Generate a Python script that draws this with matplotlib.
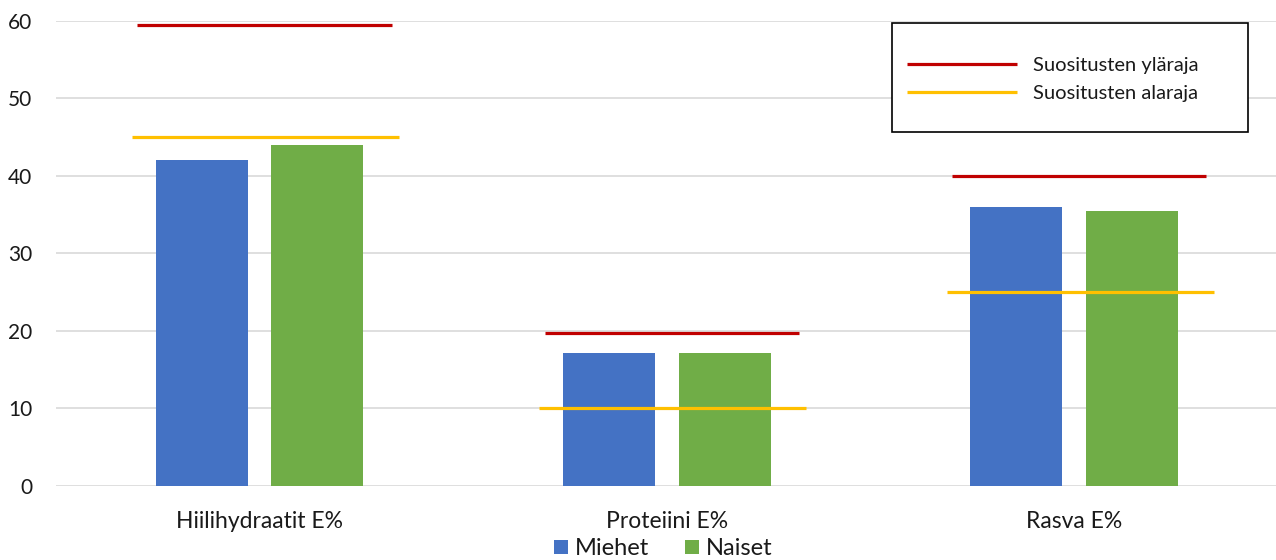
import matplotlib
matplotlib.use("Agg")
import matplotlib.pyplot as plt
from matplotlib.patches import Rectangle
import numpy as np

plt.rcParams['font.family'] = ['Lato', 'DejaVu Sans']

# Energy share of macronutrients (E%)
categories = ["Hiilihydraatit E%", "Proteiini E%", "Rasva E%"]
miehet = [42.0, 17.2, 36.0]
naiset = [44.0, 17.2, 35.5]
# Recommended range per nutrient
upper_limit = [59.5, 19.7, 40.0]
lower_limit = [45.0, 10.0, 25.0]
series_names = ["Miehet", "Naiset"]
limit_names = ["Suositusten yläraja", "Suositusten alaraja"]
y_ticks = [0, 10, 20, 30, 40, 50, 60]

BLUE = "#4472C4"
GREEN = "#70AD47"
RED = "#C00000"
ORANGE = "#FFC000"
GRID = "#D9D9D9"
TEXT = "#1a1a1a"

W, H = 1276, 560
fig = plt.figure(figsize=(W / 100, H / 100), dpi=100)
ax = fig.add_axes([55.9 / W, 1 - 486 / H, 1221.7 / W, 465.3 / H])

x = np.arange(len(categories))
bw = 0.226
off = 0.142
ax.bar(x - off, miehet, bw, color=BLUE, label=series_names[0], zorder=2)
ax.bar(x + off, naiset, bw, color=GREEN, label=series_names[1], zorder=2)

lw = 2.3
for i in range(len(categories)):
    ax.hlines(upper_limit[i], x[i] - 0.30, x[i] + 0.325, color=RED, lw=lw,
              zorder=3, label=limit_names[0] if i == 0 else None)
    ax.hlines(lower_limit[i], x[i] - 0.313, x[i] + 0.343, color=ORANGE, lw=lw,
              zorder=3, label=limit_names[1] if i == 0 else None)

ax.set_xlim(-0.5, 2.5)
ax.set_ylim(0, 60)
ax.set_yticks(y_ticks)
ax.set_xticks(x)
ax.set_xticklabels(categories)
ax.yaxis.grid(True, color=GRID, lw=1.2, zorder=0)
ax.set_axisbelow(True)
for s in ax.spines.values():
    s.set_visible(False)
ax.tick_params(axis='y', length=0, pad=17, labelsize=15, labelcolor=TEXT)
ax.tick_params(axis='x', length=0, pad=18, labelsize=16.5, labelcolor=TEXT)

handles, labels = ax.get_legend_handles_labels()
hmap = dict(zip(labels, handles))

# Boxed legend for the recommendation lines
box = Rectangle((891.7 / W, 1 - 132.3 / H), 356 / W, 109 / H,
                transform=fig.transFigure, fill=True, facecolor="white",
                edgecolor="black", lw=1.2, zorder=5)
fig.patches.append(box)
leg1 = fig.legend([hmap[n] for n in limit_names], limit_names,
                  loc="center left", bbox_to_anchor=(906.7 / W, 1 - 79.5 / H),
                  frameon=False, fontsize=14.5, handlelength=5.5,
                  handletextpad=0.75, labelspacing=0.55, borderpad=0,
                  borderaxespad=0, labelcolor=TEXT)
leg1.set_zorder(6)

# Series legend below the axis, kept fully inside the canvas
leg2 = fig.legend([hmap[n] for n in series_names], series_names,
                  loc="lower center", bbox_to_anchor=(663 / W, 1 / H),
                  ncol=2, frameon=False, fontsize=17, handlelength=0.6,
                  handleheight=0.55, handletextpad=0.3, columnspacing=1.5,
                  borderpad=0, borderaxespad=0, labelcolor=TEXT)

fig.savefig("out.png", dpi=100)
